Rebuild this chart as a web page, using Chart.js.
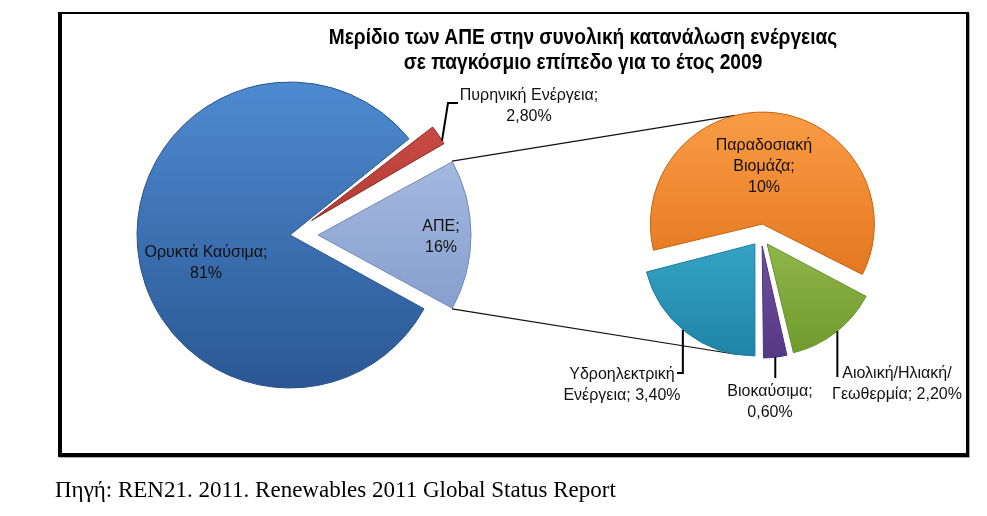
<!DOCTYPE html>
<html><head><meta charset="utf-8">
<script src="https://cdn.jsdelivr.net/npm/chart.js@4.4.1/dist/chart.umd.min.js"></script>
<style>
html,body{margin:0;padding:0;background:#fff;width:987px;height:516px;overflow:hidden;}
#frame{position:absolute;left:58px;top:12px;width:904px;height:439px;border-style:solid;border-color:#000;border-width:2px 3px 4px 4px;box-shadow:1px 1px 0 #aaa;}
canvas{position:absolute;left:0;top:0;}
#title{position:absolute;left:233px;width:700px;top:24px;text-align:center;font-weight:bold;font-size:22px;font-family:"Liberation Sans",Arial,sans-serif;line-height:25px;color:#000;white-space:nowrap;transform:scaleX(0.87);transform-origin:350px 0;}
#source{position:absolute;left:55px;top:477px;font-size:23px;font-family:"Liberation Serif","Times New Roman",serif;line-height:26px;color:#000;white-space:nowrap;}
</style></head><body>
<div id="frame"></div>
<canvas id="mainPie" width="987" height="516"></canvas>
<canvas id="subPie" width="987" height="516"></canvas>
<div id="title">Μερίδιο των ΑΠΕ στην συνολική κατανάλωση ενέργειας<br>σε παγκόσμιο επίπεδο για το έτος 2009</div>
<div id="source">Πηγή: REN21. 2011. Renewables 2011 Global Status Report</div>
<script>
// ---------- DATA ----------
const mainCategories = ['Πυρηνική Ενέργεια', 'ΑΠΕ', 'Ορυκτά Καύσιμα'];
const mainValues = [2.8, 16, 81];
const subCategories = ['Παραδοσιακή Βιομάζα', 'Αιολική/Ηλιακή/Γεωθερμία', 'Βιοκαύσιμα', 'Υδροηλεκτρική Ενέργεια'];
const subValues = [10, 2.2, 0.6, 3.4];

// ---------- STYLE / LAYOUT ----------
const fmt = v => Number.isInteger(v) ? v + '%' : v.toFixed(2).replace('.', ',') + '%';
const mainLabelLines = [
  [mainCategories[0] + ';', fmt(mainValues[0])],
  [mainCategories[1] + ';', fmt(mainValues[1])],
  [mainCategories[2] + ';', fmt(mainValues[2])]
];
const subLabelLines = [
  ['Παραδοσιακή', 'Βιομάζα;', fmt(subValues[0])],
  ['Αιολική/Ηλιακή/', 'Γεωθερμία; ' + fmt(subValues[1])],
  [subCategories[2] + ';', fmt(subValues[2])],
  ['Υδροηλεκτρική', 'Ενέργεια; ' + fmt(subValues[3])]
];
const R_MAIN = 153, R_SUB = 112;
const mainOffsetPx = [26, 28, 0];
const subOffsetPx = [12, 10, 10, 10];
const mainShades = [['#D8524B', '#8E2622'], ['#B3C7E8', '#7891C6'], ['#4E8AD0', '#2A5793']];
const subShades = [['#FA9C45', '#DC6A12'], ['#B0D16A', '#6E9A2C'], ['#8A68BA', '#553884'], ['#4CC2E0', '#1E84A8']];
const mainPlace = [
  {out: true, dx: 239, dy: -129, da: 2.4, pts: [[158, -132], [168, -132]]},
  {dx: 151, dy: 2},
  {dx: -84, dy: 28}
];
const subPlace = [
  {dx: 3, dy: -69},
  {out: true, dx: 136, dy: 148, da: -1, pts: [[null, 141]]},
  {out: true, dx: 9, dy: 166, da: 0, pts: [[null, 142]]},
  {out: true, dx: -139, dy: 149, da: 2.3, pts: [[null, 137], [-84, 137]]}
];
const LABEL_FONT = '16px "Liberation Sans", Arial, sans-serif';
const LINE_H = 21;

function gradFill(shades, R) {
  return function(c) {
    const chart = c.chart, a = chart.chartArea;
    if (!a) return shades[c.dataIndex][0];
    const cy = (a.top + a.bottom) / 2;
    const g = chart.ctx.createLinearGradient(0, cy - R, 0, cy + R);
    g.addColorStop(0, shades[c.dataIndex][0]);
    g.addColorStop(1, shades[c.dataIndex][1]);
    return g;
  };
}

function makePlugin(R, place, lines, extra) {
  return {
    id: 'pieDeco',
    beforeDatasetsDraw(chart) {
      const meta = chart.getDatasetMeta(0);
      meta.data.forEach(el => {
        const off = (el.options.offset || 0) / 4;
        const fix = 1 - Math.sin(Math.min(Math.PI, el.circumference || 0));
        el.outerRadius = R - off * fix;
      });
      if (extra) extra(chart);
    },
    afterDatasetsDraw(chart) {
      const ctx = chart.ctx;
      const meta = chart.getDatasetMeta(0);
      ctx.save();
      ctx.font = LABEL_FONT;
      ctx.fillStyle = '#111';
      ctx.textAlign = 'center';
      ctx.textBaseline = 'middle';
      meta.data.forEach((el, i) => {
        const p = place[i];
        const mid = (el.startAngle + el.endAngle) / 2;
        const d = (el.options.offset || 0) / 4;
        const sx = el.x + Math.cos(mid) * d, sy = el.y + Math.sin(mid) * d;
        if (p.out) {
          const a = mid + p.da * Math.PI / 180;
          const x0 = sx + Math.cos(a) * R, y0 = sy + Math.sin(a) * R;
          ctx.beginPath();
          ctx.moveTo(x0, y0);
          p.pts.forEach(q => ctx.lineTo(q[0] === null ? x0 : el.x + q[0], el.y + q[1]));
          ctx.strokeStyle = '#000';
          ctx.lineWidth = 2;
          ctx.stroke();
        }
        const tx = el.x + p.dx, ty = el.y + p.dy;
        const L = lines[i];
        L.forEach((t, k) => ctx.fillText(t, tx, ty + (k - (L.length - 1) / 2) * LINE_H));
      });
      ctx.restore();
    }
  };
}

const mainChart = new Chart(document.getElementById('mainPie'), {
  type: 'pie',
  data: {
    labels: mainCategories,
    datasets: [{
      data: mainValues,
      backgroundColor: gradFill(mainShades, R_MAIN),
      borderColor: ['#8a2a26', '#7088bb', '#2a548c'],
      borderWidth: 1,
      offset: mainOffsetPx.map(v => v * 4)
    }]
  },
  options: {
    responsive: false,
    animation: false,
    events: [],
    radius: R_MAIN,
    rotation: 51.04,
    layout: {padding: {left: 0, right: 407, top: 0, bottom: 46}},
    plugins: {legend: {display: false}, tooltip: {enabled: false}, title: {display: false}}
  },
  plugins: [makePlugin(R_MAIN, mainPlace, mainLabelLines)]
});

function drawConnectors(chart) {
  const m = mainChart.getDatasetMeta(0).data[1];
  const mMid = (m.startAngle + m.endAngle) / 2;
  const md = (m.options.offset || 0) / 4;
  const mx = m.x + Math.cos(mMid) * md, my = m.y + Math.sin(mMid) * md;
  const sub = chart.getDatasetMeta(0).data;
  const ends = [[sub[0], -104], [sub[3], 99]];
  const starts = [m.startAngle, m.endAngle];
  const ctx = chart.ctx;
  ctx.save();
  ctx.strokeStyle = '#111';
  ctx.lineWidth = 1.2;
  ends.forEach((e, k) => {
    const el = e[0];
    const mid = (el.startAngle + el.endAngle) / 2;
    const d = (el.options.offset || 0) / 4;
    const ex = el.x + Math.cos(mid) * d + Math.cos(e[1] * Math.PI / 180) * R_SUB;
    const ey = el.y + Math.sin(mid) * d + Math.sin(e[1] * Math.PI / 180) * R_SUB;
    ctx.beginPath();
    ctx.moveTo(mx + Math.cos(starts[k]) * R_MAIN, my + Math.sin(starts[k]) * R_MAIN);
    ctx.lineTo(ex, ey);
    ctx.stroke();
  });
  ctx.restore();
}

new Chart(document.getElementById('subPie'), {
  type: 'pie',
  data: {
    labels: subCategories,
    datasets: [{
      data: subValues,
      backgroundColor: gradFill(subShades, R_SUB),
      borderColor: ['#c4620f', '#6b9030', '#4f337a', '#1d7b9c'],
      borderWidth: 1,
      offset: subOffsetPx.map(v => v * 4)
    }]
  },
  options: {
    responsive: false,
    animation: false,
    events: [],
    radius: R_SUB,
    rotation: -104.5,
    layout: {padding: {left: 535, right: 0, top: 0, bottom: 44}},
    plugins: {legend: {display: false}, tooltip: {enabled: false}, title: {display: false}}
  },
  plugins: [makePlugin(R_SUB, subPlace, subLabelLines, drawConnectors)]
});
</script>
</body></html>
